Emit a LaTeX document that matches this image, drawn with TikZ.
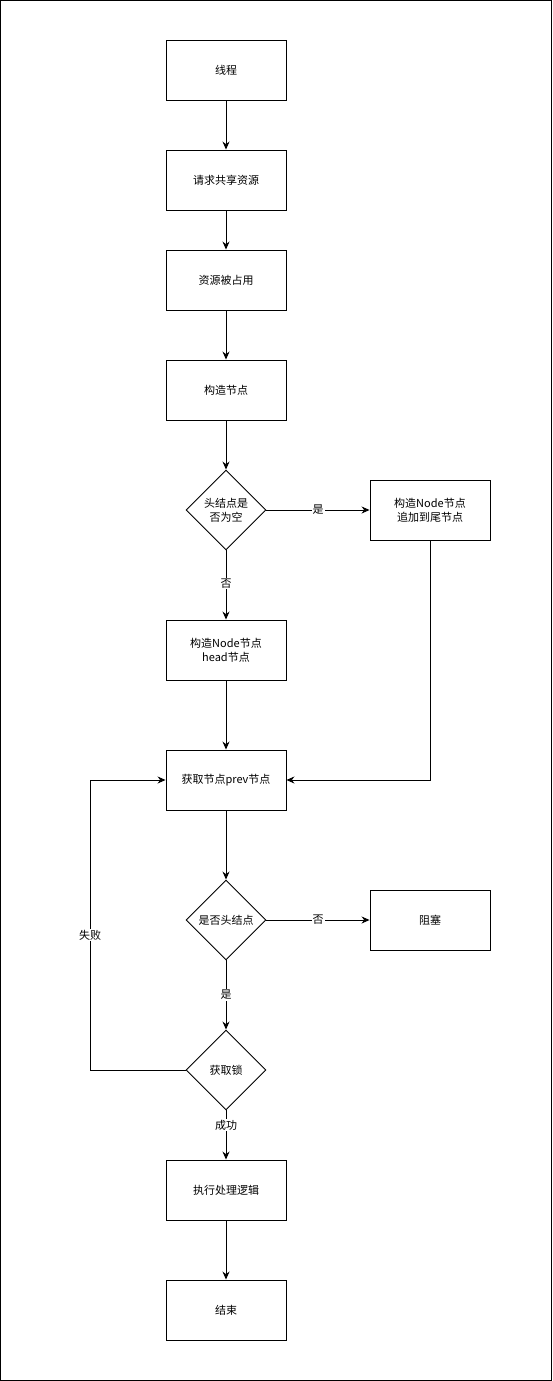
\documentclass[tikz,border=0pt]{standalone}
\usepackage{fontspec}
\setmainfont{Noto Sans CJK SC}
\usetikzlibrary{arrows.meta,shapes.geometric}
\tikzset{
  box/.style={draw, line width=0.9pt, minimum width=120pt, minimum height=60pt, align=center, inner sep=0pt, font=\fontsize{11pt}{14pt}\selectfont},
  decide/.style={draw, diamond, line width=0.9pt, minimum width=80pt, minimum height=80pt, inner sep=0pt, align=center, font=\fontsize{11pt}{14pt}\selectfont},
  flow/.style={line width=0.9pt, -{Stealth[length=8pt,width=7pt]}},
  lbl/.style={fill=white, inner sep=1pt, font=\fontsize{11pt}{14pt}\selectfont}
}
\begin{document}
\begin{tikzpicture}[x=1pt,y=-1pt]
        \useasboundingbox (0,0) rectangle (552,1381);
        \draw[line width=1.2pt] (0.6,0.6) rectangle (551.4,1380.4);

        \node[box] (thread) at (226,70) {线程};
        \node[box] (request) at (226,180) {请求共享资源};
        \node[box] (busy) at (226,280) {资源被占用};
        \node[box] (build) at (226,390) {构造节点};
        \node[decide] (headnull) at (226,510) {头结点是\\否为空};
        \node[box] (tail) at (430,510) {构造Node节点\\追加到尾节点};
        \node[box] (head) at (226,650) {构造Node节点\\head节点};
        \node[box] (prev) at (226,780) {获取节点prev节点};
        \node[decide] (ishead) at (226,920) {是否头结点};
        \node[box] (block) at (430,920) {阻塞};
        \node[decide] (lock) at (226,1070) {获取锁};
        \node[box] (run) at (226,1190) {执行处理逻辑};
        \node[box] (finish) at (226,1310) {结束};
        \coordinate (loop) at (90,1070);

        \draw[flow] (thread) -- (request);
        \draw[flow] (request) -- (busy);
        \draw[flow] (busy) -- (build);
        \draw[flow] (build) -- (headnull);
        \draw[flow] (headnull) -- node[lbl] {是} (tail);
        \draw[flow] (headnull) -- node[lbl, pos=0.48] {否} (head);
        \draw[flow] (tail.south) |- (prev.east);
        \draw[flow] (head) -- (prev);
        \draw[flow] (prev) -- (ishead);
        \draw[flow] (ishead) -- node[lbl] {否} (block);
        \draw[flow] (ishead) -- node[lbl] {是} (lock);
        \draw[flow] (lock.west) -- (loop) |- node[lbl, pos=0.233] {失败} (prev.west);
        \draw[flow] (lock) -- node[lbl, pos=0.3] {成功} (run);
        \draw[flow] (run) -- (finish);
    \end{tikzpicture}
\end{document}
